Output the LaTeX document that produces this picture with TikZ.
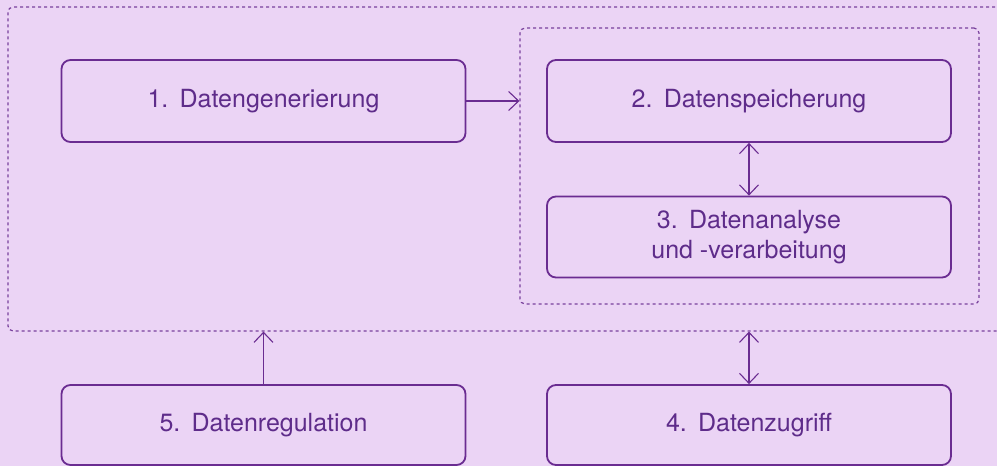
\documentclass[tikz,border=0pt]{standalone}
\usepackage{fontspec}
\setmainfont{TeX Gyre Heros}
\usetikzlibrary{arrows.meta}
\definecolor{hintergrund}{HTML}{EBD4F5}
\definecolor{linie}{HTML}{6A2C91}
\definecolor{schrift}{HTML}{5E2C8A}
\newcommand{\nummer}[1]{#1\hspace{0.45em}}
\tikzset{
  feld/.style={draw=linie, line width=1.8pt, rounded corners=9pt, minimum width=404pt,
    text=schrift, font=\fontsize{25}{30}\selectfont, align=center, inner sep=0pt},
  rahmen/.style={draw=linie!90, line width=1.2pt, dash pattern=on 3pt off 3pt, rounded corners=5pt, inner sep=0pt},
  pfeil/.style={draw=linie, line width=1.3pt, -{Straight Barb[length=10pt,width=19pt,line width=1.1pt]}},
  doppelpfeil/.style={draw=linie, line width=1.3pt, {Straight Barb[length=10pt,width=19pt,line width=1.1pt]}-{Straight Barb[length=10pt,width=19pt,line width=1.1pt]}}
}
\begin{document}
\begin{tikzpicture}[x=1pt, y=-1pt]
                   
                        \useasboundingbox[fill=hintergrund] (0,0) rectangle (997,466);
                        \clip (0,0) rectangle (997,466);
                       
                        \node[rahmen, minimum width=1004pt, minimum height=324pt] (aussen) at (510,169) {};
                        \node[rahmen, minimum width=459pt, minimum height=276pt] (innen) at (749.5,166) {};
                       
                        \node[feld, minimum height=82pt] (generierung) at (263.5,101) {\nummer{1.}Datengenerierung};
                        \node[feld, minimum height=82pt] (speicherung) at (749,101) {\nummer{2.}Datenspeicherung};
                        \node[feld, minimum height=81pt] (analyse) at (749,237) {\nummer{3.}Datenanalyse\\und -verarbeitung};
                        \node[feld, minimum height=80pt] (regulation) at (263.5,425) {\nummer{5.}Datenregulation};
                        \node[feld, minimum height=80pt] (zugriff) at (749,425) {\nummer{4.}Datenzugriff};
                       
                        \draw[pfeil] (generierung.east) -- (generierung.east -| innen.west);
                        \draw[doppelpfeil] (speicherung.south) -- (analyse.north);
                        \draw[pfeil] (regulation.north) -- (regulation.north |- aussen.south);
                        \draw[doppelpfeil] (zugriff.north) -- (zugriff.north |- aussen.south);
                           
                      \end{tikzpicture}
\end{document}
